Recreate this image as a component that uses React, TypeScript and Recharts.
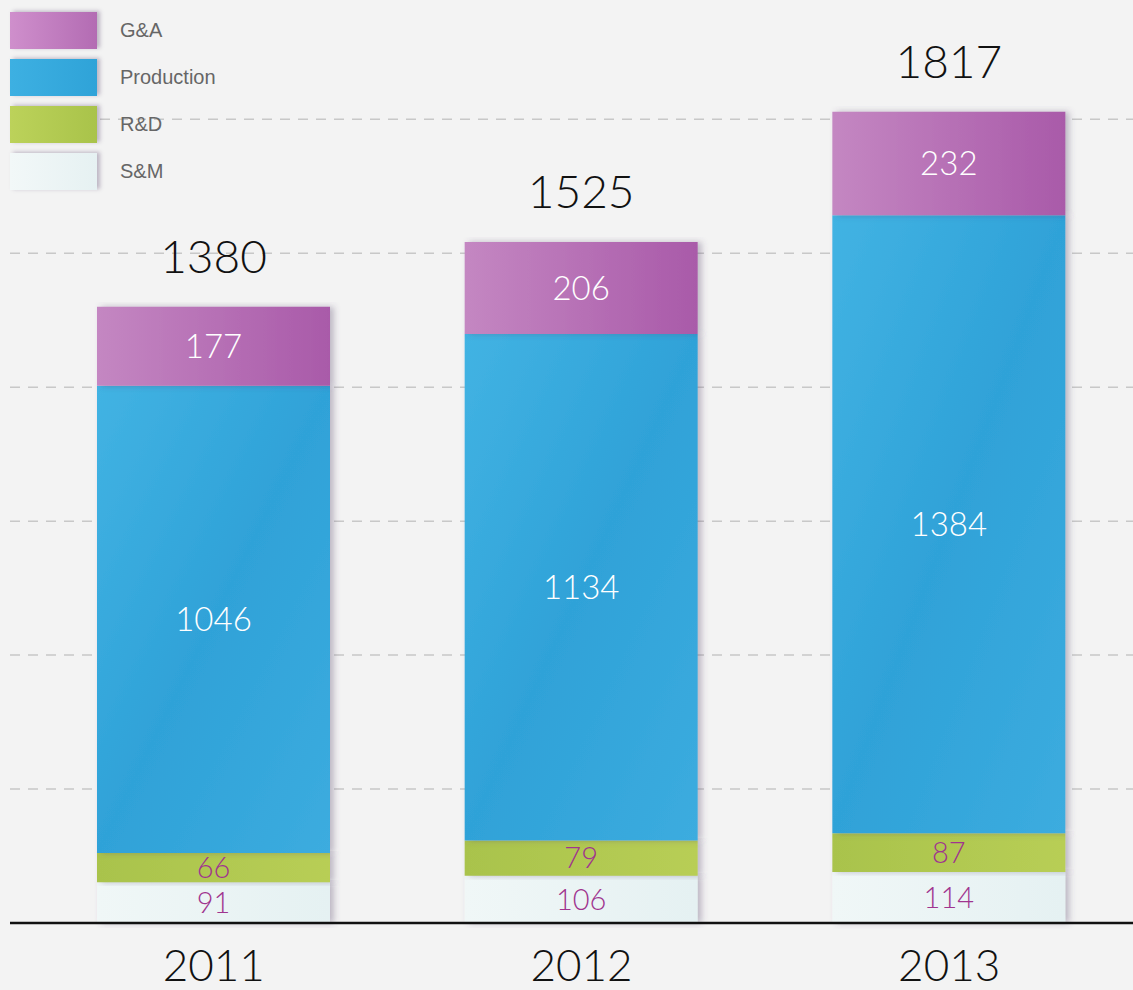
import { BarChart, Bar, XAxis, YAxis, CartesianGrid, LabelList } from 'recharts'

const years = ['2011', '2012', '2013']
const sm = [91, 106, 114]
const rd = [66, 79, 87]
const production = [1046, 1134, 1384]
const ga = [177, 206, 232]
const totals = [1380, 1525, 1817]
const gridTicks = [300, 600, 900, 1200, 1500, 1800]

const series = [
  { key: 'ga', name: 'G&A', swatch: 'linear-gradient(90deg,#cf8fcc,#b36cb3)' },
  { key: 'production', name: 'Production', swatch: 'linear-gradient(90deg,#3db0e2,#2fa3d8)' },
  { key: 'rd', name: 'R&D', swatch: 'linear-gradient(90deg,#bcd25a,#a9c34a)' },
  { key: 'sm', name: 'S&M', swatch: 'linear-gradient(90deg,#f2f8f8,#e6f1f2)' },
]

const data = years.map((year, i) => ({
  year, sm: sm[i], rd: rd[i], production: production[i], ga: ga[i], total: totals[i],
}))

const numFont = 'Lato, "DejaVu Sans", sans-serif'

const YearTick = ({ x, y, payload }: any) => (
  <text x={x} y={y + 50} textAnchor="middle" fontSize={44} fontFamily={numFont} fontWeight={300} fill="#111">
    {payload.value}
  </text>
)

const Legend = () => (
  <div style={{ position: 'absolute', left: 10, top: 7, fontFamily: '"Liberation Sans", Arial, sans-serif' }}>
    {series.map(s => (
      <div key={s.key} style={{ display: 'flex', alignItems: 'center', height: 47 }}>
        <div style={{ width: 87, height: 37, background: s.swatch, boxShadow: '3px -1px 4px rgba(90,70,110,0.35)' }} />
        <span style={{ marginLeft: 23, fontSize: 20, color: '#666' }}>{s.name}</span>
      </div>
    ))}
  </div>
)

export default function App() {
  return (
    <div style={{ position: 'absolute', left: 0, top: 0, width: 1133, height: 990, background: '#f3f3f3', overflow: 'hidden' }}>
      <BarChart width={1133} height={990} data={data} margin={{ top: 30, right: 0, bottom: 0, left: 10 }} barSize={233}>
        <defs>
          <linearGradient id="gGa" x1="0" y1="0" x2="1" y2="0">
            <stop offset="0%" stopColor="#c487c2" />
            <stop offset="100%" stopColor="#a95aa9" />
          </linearGradient>
          <linearGradient id="gProd" x1="0" y1="0" x2="1" y2="1">
            <stop offset="0%" stopColor="#42b3e3" />
            <stop offset="50%" stopColor="#2fa2d8" />
            <stop offset="100%" stopColor="#3cacdf" />
          </linearGradient>
          <linearGradient id="gRd" x1="0" y1="0" x2="1" y2="0">
            <stop offset="0%" stopColor="#a9c34c" />
            <stop offset="100%" stopColor="#b8ce55" />
          </linearGradient>
          <linearGradient id="gSm" x1="0" y1="0" x2="1" y2="0">
            <stop offset="0%" stopColor="#f0f7f7" />
            <stop offset="100%" stopColor="#e5f1f2" />
          </linearGradient>
          <filter id="paper" x="-5%" y="-5%" width="115%" height="115%">
            <feDropShadow dx="4" dy="0" stdDeviation="3" floodColor="#5a4670" floodOpacity="0.35" />
          </filter>
        </defs>
        <CartesianGrid vertical={false} syncWithTicks stroke="#c8c8c8" strokeDasharray="10 8" strokeWidth={1.5} />
        <YAxis hide domain={[0, 2000]} ticks={gridTicks} />
        <XAxis dataKey="year" height={67} padding={{ left: 20, right: 0 }} tickLine={false} axisLine={{ stroke: '#111', strokeWidth: 2.5 }} tick={<YearTick />} />
        <Bar dataKey="sm" stackId="a" fill="url(#gSm)" filter="url(#paper)" isAnimationActive={false}>
          <LabelList dataKey="sm" position="center" fill="#a0348f" fontSize={29} fontFamily={numFont} fontWeight={300} />
        </Bar>
        <Bar dataKey="rd" stackId="a" fill="url(#gRd)" filter="url(#paper)" isAnimationActive={false}>
          <LabelList dataKey="rd" position="center" fill="#a0348f" fontSize={29} fontFamily={numFont} fontWeight={300} />
        </Bar>
        <Bar dataKey="production" stackId="a" fill="url(#gProd)" filter="url(#paper)" isAnimationActive={false}>
          <LabelList dataKey="production" position="center" fill="#fff" fontSize={33} fontFamily={numFont} fontWeight={300} />
        </Bar>
        <Bar dataKey="ga" stackId="a" fill="url(#gGa)" filter="url(#paper)" isAnimationActive={false}>
          <LabelList dataKey="ga" position="center" fill="#fff" fontSize={33} fontFamily={numFont} fontWeight={300} />
          <LabelList dataKey="total" position="top" offset={34} fill="#111" fontSize={46} fontFamily={numFont} fontWeight={300} />
        </Bar>
      </BarChart>
      <Legend />
    </div>
  )
}
